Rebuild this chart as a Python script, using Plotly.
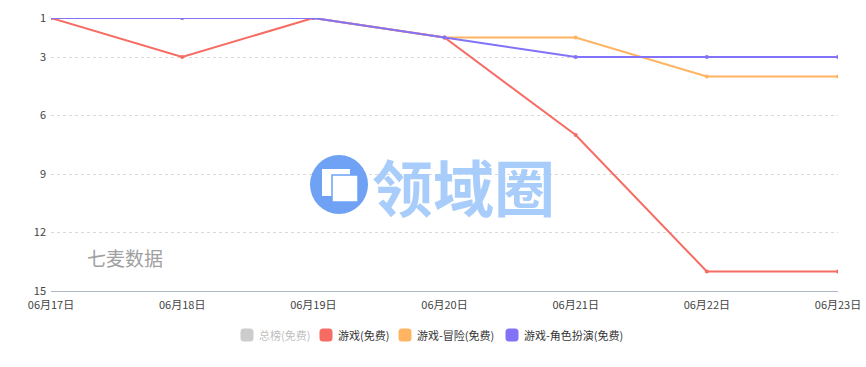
import plotly.graph_objects as go

dates = ["06月17日", "06月18日", "06月19日", "06月20日", "06月21日", "06月22日", "06月23日"]
total_free = [None] * 7
game_free = [1, 3, 1, 2, 7, 14, 14]
adventure_free = [1, 1, 1, 2, 2, 4, 4]
rpg_free = [1, 1, 1, 2, 3, 3, 3]
y_ticks = [1, 3, 6, 9, 12, 15]

series_names = ["总榜(免费)", "游戏(免费)", "游戏-冒险(免费)", "游戏-角色扮演(免费)"]
series_values = [total_free, game_free, adventure_free, rpg_free]
series_colors = ["#cccccc", "#f66c63", "#ffb462", "#8272f8"]
series_hidden = [True, False, False, False]

FONT = "Noto Sans CJK SC"
L, R, T, B = 51, 28, 18, 76
W, H = 866, 367
PW, PH = W - L - R, H - T - B


def px(x):
    return (x - L) / PW


def py(y):
    return (H - B - y) / PH


fig = go.Figure()
for name, vals, color, hidden in zip(series_names, series_values, series_colors, series_hidden):
    fig.add_trace(go.Scatter(
        x=dates, y=vals, mode="lines+markers", name=name,
        line=dict(color=color, width=2), marker=dict(color=color, size=4),
        showlegend=False, visible="legendonly" if hidden else True,
    ))

# custom legend (rounded square icons + labels)
icon_x = [247, 326, 405, 512]
legend_y = 335
for i, (name, color, hidden) in enumerate(zip(series_names, series_colors, series_hidden)):
    cx = icon_x[i]
    s, r = 6.5, 3.5
    x0, x1, y0, y1 = cx - s, cx + s, legend_y - s, legend_y + s
    path = (f"M {px(x0 + r)} {py(y0)} L {px(x1 - r)} {py(y0)} Q {px(x1)} {py(y0)} {px(x1)} {py(y0 + r)} "
            f"L {px(x1)} {py(y1 - r)} Q {px(x1)} {py(y1)} {px(x1 - r)} {py(y1)} "
            f"L {px(x0 + r)} {py(y1)} Q {px(x0)} {py(y1)} {px(x0)} {py(y1 - r)} "
            f"L {px(x0)} {py(y0 + r)} Q {px(x0)} {py(y0)} {px(x0 + r)} {py(y0)} Z")
    fig.add_shape(type="path", xref="paper", yref="paper", path=path,
                  fillcolor="#cccccc" if hidden else color, line=dict(width=0))
    fig.add_annotation(text=name, xref="paper", yref="paper", x=px(cx + 10), y=py(legend_y),
                       xanchor="left", yanchor="middle", showarrow=False,
                       font=dict(family=FONT, size=11, color="#c0c0c0" if hidden else "#333333"))

# watermark: 七麦数据
fig.add_annotation(text="七麦数据", xref="paper", yref="paper", x=px(85), y=py(257),
                   xanchor="left", yanchor="middle", showarrow=False,
                   font=dict(family=FONT, size=19, color="#a0a0a0"))
# watermark logo: 领域圈
fig.add_shape(type="circle", xref="paper", yref="paper",
              x0=px(310), x1=px(368), y0=py(214), y1=py(155),
              fillcolor="#6fa2f5", line=dict(width=0), layer="above")
fig.add_shape(type="rect", xref="paper", yref="paper",
              x0=px(322), x1=px(350), y0=py(196), y1=py(169),
              fillcolor="#ffffff", line=dict(width=0), layer="above")
fig.add_shape(type="rect", xref="paper", yref="paper",
              x0=px(332), x1=px(358), y0=py(202), y1=py(175),
              fillcolor="#ffffff", line=dict(color="#6fa2f5", width=1.5), layer="above")
fig.add_annotation(text="<b>领域圈</b>", xref="paper", yref="paper",
                   x=px(370), y=py(185), xanchor="left", yanchor="middle",
                   showarrow=False, font=dict(family=FONT, size=61, color="#a9cdfb"))

fig.update_layout(
    width=W, height=H,
    margin=dict(l=L, r=R, t=T, b=B, autoexpand=False),
    paper_bgcolor="white", plot_bgcolor="white",
    font=dict(family=FONT, size=11, color="#555555"),
    showlegend=False,
    xaxis=dict(type="category", range=[0, 6], showgrid=False, zeroline=False,
               showline=True, linecolor="#b0b7c8", linewidth=1, ticks="",
               ticklabelstandoff=4, automargin=False,
               tickfont=dict(size=11, color="#444444"), fixedrange=True),
    yaxis=dict(range=[15, 1], tickvals=y_ticks, showgrid=True, gridcolor="#d9d9d9",
               griddash="dot", zeroline=False, showline=False, ticks="",
               automargin=False, ticklabelstandoff=4,
               tickfont=dict(size=11, color="#444444"), fixedrange=True),
)
fig.write_html("out.html")
